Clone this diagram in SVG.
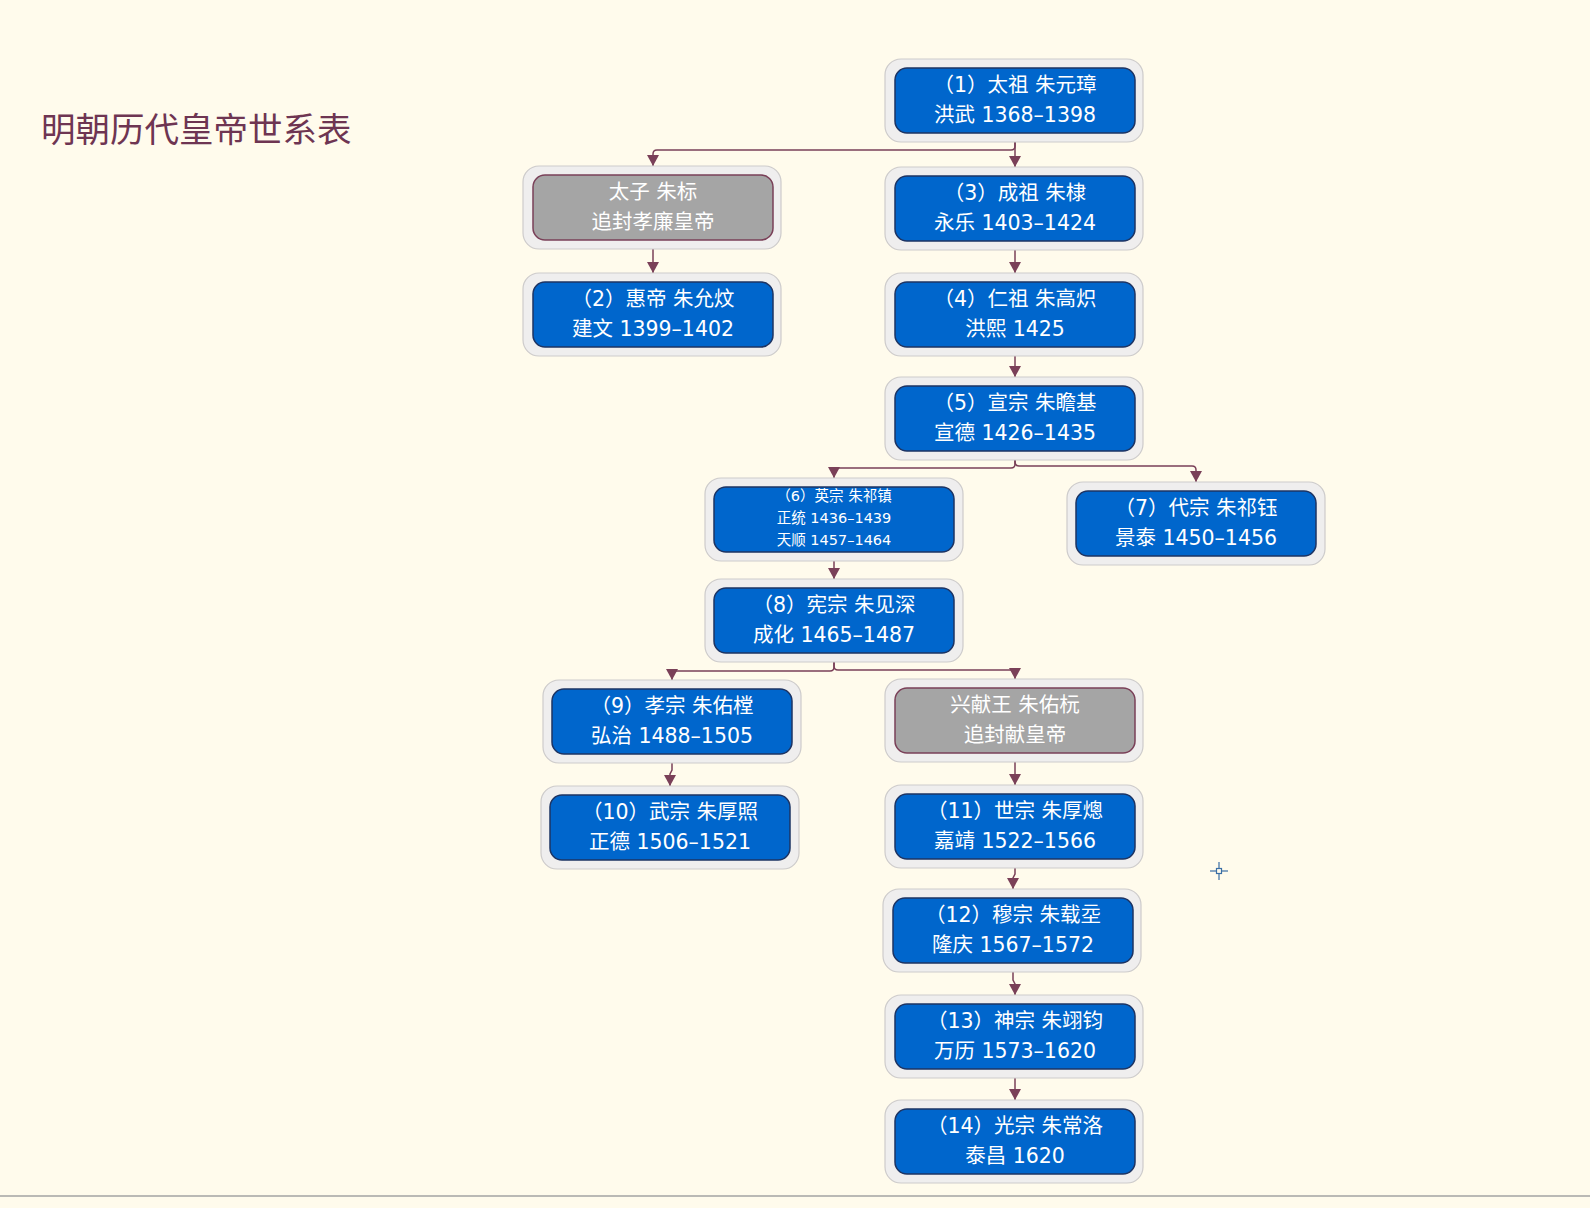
<svg xmlns="http://www.w3.org/2000/svg" width="1590" height="1208" viewBox="0 0 1590 1208">
  <style>
    .outer { fill: #efeeee; stroke: #cdcbcb; stroke-width: 1.2; }
    .inner { fill: #0066cc; stroke: #1d3463; stroke-width: 1.5; }
    .inner.alt { fill: #a5a5a5; stroke: #7a4058; }
    .lbl { font-family: "DejaVu Sans", "Noto Sans CJK SC", sans-serif; font-size: 20.5px; fill: #ffffff; text-anchor: middle; }
    .lbl.sm { font-size: 14.5px; }
    .edge { fill: none; stroke: #7a4058; stroke-width: 1.5; marker-end: url(#arrow); }
    .title { font-family: "Noto Sans CJK SC", "Noto Sans", sans-serif; font-size: 34.5px; fill: #6e3552; }
  </style>
  <defs>
    <marker id="arrow" markerUnits="userSpaceOnUse" markerWidth="12" markerHeight="12" refX="11" refY="6" orient="auto">
      <path d="M0,0 L11,6 L0,12 z" fill="#7a4058"/>
    </marker>
  </defs>

  <rect x="0" y="0" width="1590" height="1208" fill="#fffbec"/>
  <line x1="0" y1="1196" x2="1590" y2="1196" stroke="#a3a3a3" stroke-width="1.5"/>

  <text class="title" x="41" y="142">明朝历代皇帝世系表</text>

  <!-- crosshair cursor mark -->
  <g id="cursor" stroke="#3a6ea5" stroke-width="1.2" fill="none">
    <rect x="1216.5" y="868.5" width="5" height="5"/>
    <line x1="1210" y1="871" x2="1216.5" y2="871"/>
    <line x1="1221.5" y1="871" x2="1228" y2="871"/>
    <line x1="1219" y1="862" x2="1219" y2="868.5"/>
    <line x1="1219" y1="873.5" x2="1219" y2="880"/>
  </g>

  <g id="connectors">
    <path class="edge" d="M1015 142 V167"/>
    <path class="edge" d="M1015 142 V146 Q1015 150 1011 150 H657 Q653 150 653 154 V166"/>
    <path class="edge" d="M653 249 V273"/>
    <path class="edge" d="M1015 250 V273"/>
    <path class="edge" d="M1015 356 V377"/>
    <path class="edge" d="M1015 460 V464 Q1015 468 1011 468 H838 Q834 468 834 472 V478"/>
    <path class="edge" d="M1015 460 V462 Q1015 466 1019 466 H1192 Q1196 466 1196 470 V482"/>
    <path class="edge" d="M834 561 V579"/>
    <path class="edge" d="M834 662 V667 Q834 671 830 671 H676 Q672 671 672 675 V680"/>
    <path class="edge" d="M834 662 V666 Q834 670 838 670 H1011 Q1015 670 1015 674 V679"/>
    <path class="edge" d="M672 763 V770 L670 774 V786"/>
    <path class="edge" d="M1015 762 V785"/>
    <path class="edge" d="M1015 868 V874 L1013 878 V889"/>
    <path class="edge" d="M1013 972 V980 L1015 984 V995"/>
    <path class="edge" d="M1015 1078 V1100"/>
  </g>

  <g id="n1">
    <rect class="outer" x="885" y="59" width="258" height="83" rx="16"/>
    <rect class="inner" x="895" y="68" width="240" height="65" rx="12"/>
    <text class="lbl" x="1015" y="92">（1）太祖 朱元璋</text>
    <text class="lbl" x="1015" y="121.5">洪武 1368–1398</text>
  </g>

  <g id="taizi">
    <rect class="outer" x="523" y="166" width="258" height="83" rx="16"/>
    <rect class="inner alt" x="533" y="175" width="240" height="65" rx="12"/>
    <text class="lbl" x="653" y="199">太子 朱标</text>
    <text class="lbl" x="653" y="228.5">追封孝廉皇帝</text>
  </g>

  <g id="n3">
    <rect class="outer" x="885" y="167" width="258" height="83" rx="16"/>
    <rect class="inner" x="895" y="176" width="240" height="65" rx="12"/>
    <text class="lbl" x="1015" y="200">（3）成祖 朱棣</text>
    <text class="lbl" x="1015" y="229.5">永乐 1403–1424</text>
  </g>

  <g id="n2">
    <rect class="outer" x="523" y="273" width="258" height="83" rx="16"/>
    <rect class="inner" x="533" y="282" width="240" height="65" rx="12"/>
    <text class="lbl" x="653" y="306">（2）惠帝 朱允炆</text>
    <text class="lbl" x="653" y="335.5">建文 1399–1402</text>
  </g>

  <g id="n4">
    <rect class="outer" x="885" y="273" width="258" height="83" rx="16"/>
    <rect class="inner" x="895" y="282" width="240" height="65" rx="12"/>
    <text class="lbl" x="1015" y="306">（4）仁祖 朱高炽</text>
    <text class="lbl" x="1015" y="335.5">洪熙 1425</text>
  </g>

  <g id="n5">
    <rect class="outer" x="885" y="377" width="258" height="83" rx="16"/>
    <rect class="inner" x="895" y="386" width="240" height="65" rx="12"/>
    <text class="lbl" x="1015" y="410">（5）宣宗 朱瞻基</text>
    <text class="lbl" x="1015" y="439.5">宣德 1426–1435</text>
  </g>

  <g id="n6">
    <rect class="outer" x="705" y="478" width="258" height="83" rx="16"/>
    <rect class="inner" x="714" y="487" width="240" height="65" rx="12"/>
    <text class="lbl sm" x="834" y="501">（6）英宗 朱祁镇</text>
    <text class="lbl sm" x="834" y="523">正统 1436–1439</text>
    <text class="lbl sm" x="834" y="545">天顺 1457–1464</text>
  </g>

  <g id="n7">
    <rect class="outer" x="1067" y="482" width="258" height="83" rx="16"/>
    <rect class="inner" x="1076" y="491" width="240" height="65" rx="12"/>
    <text class="lbl" x="1196" y="515">（7）代宗 朱祁钰</text>
    <text class="lbl" x="1196" y="544.5">景泰 1450–1456</text>
  </g>

  <g id="n8">
    <rect class="outer" x="705" y="579" width="258" height="83" rx="16"/>
    <rect class="inner" x="714" y="588" width="240" height="65" rx="12"/>
    <text class="lbl" x="834" y="612">（8）宪宗 朱见深</text>
    <text class="lbl" x="834" y="641.5">成化 1465–1487</text>
  </g>

  <g id="n9">
    <rect class="outer" x="543" y="680" width="258" height="83" rx="16"/>
    <rect class="inner" x="552" y="689" width="240" height="65" rx="12"/>
    <text class="lbl" x="672" y="713">（9）孝宗 朱佑樘</text>
    <text class="lbl" x="672" y="742.5">弘治 1488–1505</text>
  </g>

  <g id="xingxian">
    <rect class="outer" x="885" y="679" width="258" height="83" rx="16"/>
    <rect class="inner alt" x="895" y="688" width="240" height="65" rx="12"/>
    <text class="lbl" x="1015" y="712">兴献王 朱佑杬</text>
    <text class="lbl" x="1015" y="741.5">追封献皇帝</text>
  </g>

  <g id="n10">
    <rect class="outer" x="541" y="786" width="258" height="83" rx="16"/>
    <rect class="inner" x="550" y="795" width="240" height="65" rx="12"/>
    <text class="lbl" x="670" y="819">（10）武宗 朱厚照</text>
    <text class="lbl" x="670" y="848.5">正德 1506–1521</text>
  </g>

  <g id="n11">
    <rect class="outer" x="885" y="785" width="258" height="83" rx="16"/>
    <rect class="inner" x="895" y="794" width="240" height="65" rx="12"/>
    <text class="lbl" x="1015" y="818">（11）世宗 朱厚熜</text>
    <text class="lbl" x="1015" y="847.5">嘉靖 1522–1566</text>
  </g>

  <g id="n12">
    <rect class="outer" x="883" y="889" width="258" height="83" rx="16"/>
    <rect class="inner" x="893" y="898" width="240" height="65" rx="12"/>
    <text class="lbl" x="1013" y="922">（12）穆宗 朱载坖</text>
    <text class="lbl" x="1013" y="951.5">隆庆 1567–1572</text>
  </g>

  <g id="n13">
    <rect class="outer" x="885" y="995" width="258" height="83" rx="16"/>
    <rect class="inner" x="895" y="1004" width="240" height="65" rx="12"/>
    <text class="lbl" x="1015" y="1028">（13）神宗 朱翊钧</text>
    <text class="lbl" x="1015" y="1057.5">万历 1573–1620</text>
  </g>

  <g id="n14">
    <rect class="outer" x="885" y="1100" width="258" height="83" rx="16"/>
    <rect class="inner" x="895" y="1109" width="240" height="65" rx="12"/>
    <text class="lbl" x="1015" y="1133">（14）光宗 朱常洛</text>
    <text class="lbl" x="1015" y="1162.5">泰昌 1620</text>
  </g>
</svg>
